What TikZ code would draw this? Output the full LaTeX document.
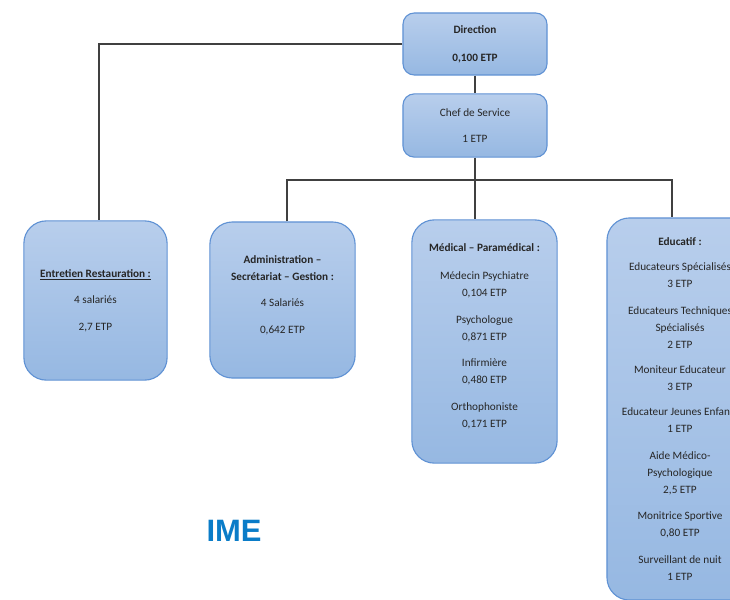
\documentclass[tikz,border=0pt]{standalone}
\usepackage{fontspec}
\setmainfont{Carlito}
\newfontfamily\imefont{Liberation Sans}
\usepackage{tikz}

\definecolor{boxtop}{RGB}{184,206,236}
\definecolor{boxbot}{RGB}{150,184,226}
\definecolor{boxline}{RGB}{96,146,212}
\definecolor{linkgray}{RGB}{64,64,64}
\definecolor{imeblue}{RGB}{10,124,200}

\begin{document}
\begin{tikzpicture}[x=0.025cm,y=-0.025cm,
  box/.style={draw=boxline,line width=0.8pt,top color=boxtop,bottom color=boxbot,
    rounded corners=#1,align=center,inner sep=0pt,text=black!85,
    font=\fontsize{8}{12}\selectfont},
  link/.style={draw=linkgray,line width=1.4pt}]
\useasboundingbox (0,0) rectangle (730,599);

\node [box=8pt,minimum width=3.6cm,minimum height=1.55cm] (direction) at (475,44)
  {\textbf{Direction}\\[8pt]\textbf{0,100 ETP}};
\node [box=8pt,minimum width=3.6cm,minimum height=1.58cm] (chef) at (475,125.5)
  {Chef de Service\\[7pt]1 ETP};

\node [box=16pt,minimum width=3.58cm,minimum height=3.98cm] (entretien) at (95.5,300.5)
  {\underline{\textbf{Entretien Restauration :}}\\[7pt]4 salariés\\[7pt]2,7 ETP};
\node [box=16pt,minimum width=3.63cm,minimum height=3.9cm] (admin) at (282.5,300)
  {\textbf{Administration –}\\\textbf{Secrétariat – Gestion :}\\[7pt]4 Salariés\\[7pt]0,642 ETP\\[-4pt]\mbox{}};
\node [box=16pt,minimum width=3.63cm,minimum height=6.08cm] (medical) at (484.5,341.5)
  {\textbf{Médical – Paramédical :}\\[8pt]Médecin Psychiatre\\0,104 ETP\\[7pt]
   Psychologue\\0,871 ETP\\[7pt]Infirmière\\0,480 ETP\\[7pt]Orthophoniste\\0,171 ETP\\[-3.5pt]\mbox{}};
\node [box=16pt,minimum width=3.65cm,minimum height=9.55cm] (educatif) at (680,409)
  {\textbf{Educatif :}\\[6pt]Educateurs Spécialisés\\3 ETP\\[7pt]
   Educateurs Techniques\\Spécialisés\\2 ETP\\[6pt]Moniteur Educateur\\3 ETP\\[6pt]
   Educateur Jeunes Enfants\\1 ETP\\[7pt]Aide Médico-\\Psychologique\\2,5 ETP\\[7pt]
   Monitrice Sportive\\0,80 ETP\\[7pt]Surveillant de nuit\\1 ETP};

\node [text=imeblue,font=\imefont\bfseries\fontsize{22}{26}\selectfont] (ime) at (234,531) {IME};

\coordinate (dropL) at (99,44);
\coordinate (busL) at (287,180);
\coordinate (busR) at (672,180);

\draw [link] (direction.west) -- (dropL) -- (dropL |- entretien.north);
\draw [link] (direction.south) -- (chef.north);
\draw [link] (chef.south) -- (chef.south |- medical.north);
\draw [link] (busL |- admin.north) -- (busL) -- (busR) -- (busR |- educatif.north);
\end{tikzpicture}
\end{document}
